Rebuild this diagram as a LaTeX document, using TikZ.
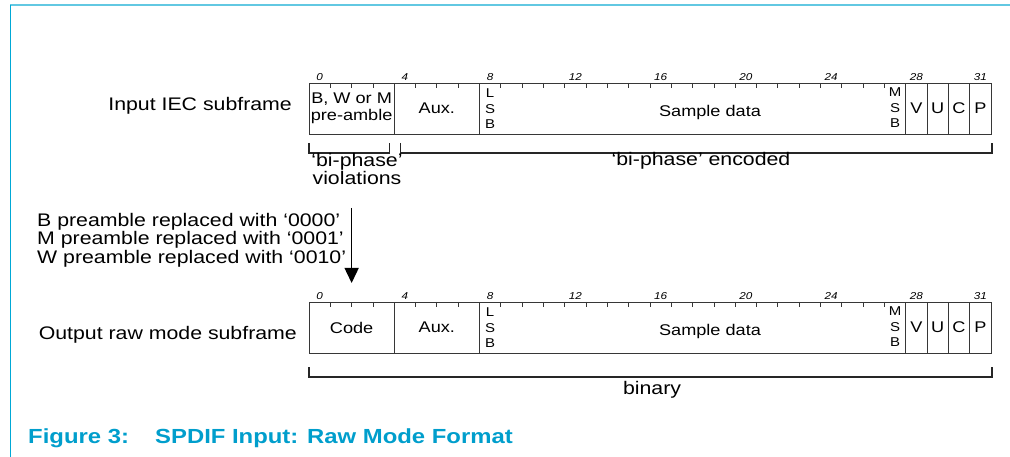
\documentclass[tikz,border=0pt]{standalone}
\usepackage{fontspec}
\setmainfont{Liberation Sans}[FakeStretch=1.17]
\usepackage{tikz}
\usetikzlibrary{arrows.meta,positioning,calc}
\definecolor{framecyan}{RGB}{98,200,226}
\definecolor{edgeblue}{RGB}{0,168,214}
\definecolor{captionblue}{RGB}{0,158,204}
\definecolor{boxgray}{RGB}{55,55,55}
\newcommand{\bw}{21.3125}
\newcommand{\bitx}[1]{309+#1*\bw}
\newcommand{\labelsize}{\fontsize{18.2pt}{18.5pt}\selectfont}
\newcommand{\boxsize}{\fontsize{15.5pt}{17pt}\selectfont}
\newcommand{\stacksize}{\fontsize{12.8pt}{15.5pt}\selectfont}
\newcommand{\bitsize}{\fontsize{10pt}{12pt}\selectfont}
\tikzset{
	>=Latex,
	field/.style={
		draw=boxgray,
		line width=0.9pt,
		minimum height=51pt,
		inner sep=0pt,
		outer sep=0pt,
		align=center,
		font=\boxsize
	},
	bitnum/.style={
		anchor=base,
		inner sep=0pt,
		font=\bitsize\itshape
	},
	bitstack/.style={
		align=center,
		inner sep=0pt,
		font=\stacksize
	},
	bittick/.style={
		draw=boxgray,
		line width=0.8pt
	},
	bracket/.style={
		draw=black!85,
		line width=1.5pt
	},
	rowlabel/.style={
		anchor=base east,
		inner sep=0pt,
		font=\labelsize
	},
	flow/.style={
		-{Triangle[length=15pt,width=14pt]},
		line width=1.4pt
	}
}

\begin{document}
\begin{tikzpicture}[x=1pt,y=-1pt]
	\useasboundingbox (0,0) rectangle (1010,457);
	
	% Frame
	\draw[framecyan,line width=2pt] (10,5.5) -- (1010,5.5);
	\draw[edgeblue,line width=1.5pt] (10.5,5) -- (10.5,457);
	
	% Input subframe
	\node[field,minimum width={4*\bw pt}] (pre) at ({\bitx{2}},108.5) {B, W or M\\pre-amble};
	\node[field,minimum width={4*\bw pt},right=0pt of pre] (aux1) {Aux.};
	\node[field,minimum width={20*\bw pt},right=0pt of aux1] (data1) {};
	\node[field,minimum width={\bw pt},right=0pt of data1] (v1) {V};
	\node[field,minimum width={\bw pt},right=0pt of v1] (u1) {U};
	\node[field,minimum width={\bw pt},right=0pt of u1] (c1) {C};
	\node[field,minimum width={\bw pt},right=0pt of c1] (p1) {P};
	\node[anchor=base,inner sep=0pt,font=\boxsize] (sdata1) at (710,116.5) {Sample data};
	\node[bitstack] (lsb1) at ({\bitx{8}+\bw/2},109) {L\\S\\B};
	\node[bitstack] (msb1) at ({\bitx{27}+\bw/2},108) {M\\S\\B};
	\node[rowlabel] (inlabel) at (292,111) {Input IEC subframe};
	
	% Output subframe
	\node[field,minimum width={4*\bw pt}] (code) at ({\bitx{2}},327.5) {Code};
	\node[field,minimum width={4*\bw pt},right=0pt of code] (aux2) {Aux.};
	\node[field,minimum width={20*\bw pt},right=0pt of aux2] (data2) {};
	\node[field,minimum width={\bw pt},right=0pt of data2] (v2) {V};
	\node[field,minimum width={\bw pt},right=0pt of v2] (u2) {U};
	\node[field,minimum width={\bw pt},right=0pt of u2] (c2) {C};
	\node[field,minimum width={\bw pt},right=0pt of c2] (p2) {P};
	\node[anchor=base,inner sep=0pt,font=\boxsize] (sdata2) at (710,335.5) {Sample data};
	\node[bitstack] (lsb2) at ({\bitx{8}+\bw/2},328) {L\\S\\B};
	\node[bitstack] (msb2) at ({\bitx{27}+\bw/2},327) {M\\S\\B};
	\node[rowlabel] (outlabel) at (297,339) {Output raw mode subframe};
	
	% Bit ticks and numbers
	\foreach \b in {1,2,3,5,6,7,9,10,...,27} {
		\draw[bittick] ({\bitx{\b}},83) -- ++(0,5);
		\draw[bittick] ({\bitx{\b}},302) -- ++(0,5);
	}
	\foreach \b in {0,4,...,28,31} {
		\node[bitnum] (in\b) at ({\bitx{\b}+\bw/2},81) {\b};
		\node[bitnum] (out\b) at ({\bitx{\b}+\bw/2},300) {\b};
	}
	
	% Brackets
	\draw[bracket] ([yshift=-9pt]pre.south west) -- ++(0,10) -| ([xshift=-5pt,yshift=-9pt]pre.south east);
	\draw[bracket] ([xshift=6pt,yshift=-9pt]aux1.south west) -- ++(0,10) -| ([xshift=1pt,yshift=-9pt]p1.south east);
	\draw[bracket] ([yshift=-14pt]code.south west) -- ++(0,10) -| ([xshift=1pt,yshift=-14pt]p2.south east);
	
	\node[anchor=north,align=center,inner sep=0pt,font=\labelsize] (viol) at (357,153) {‘bi-phase’\\violations};
	\node[anchor=base,inner sep=0pt,font=\labelsize] (enc) at (701,166) {‘bi-phase’ encoded};
	\node[anchor=base,inner sep=0pt,font=\labelsize] (bin) at (652,394) {binary};
	
	% Replacement
	\node[anchor=north west,align=left,inner sep=0pt,font=\labelsize] (repl) at (37,213)
	{B preamble replaced with ‘0000’\\
		M preamble replaced with ‘0001’\\
		W preamble replaced with ‘0010’};
	\draw[flow] ([yshift=94pt]code.north) -- ([yshift=19pt]code.north);
	
	% Caption
	\node[anchor=base west,inner sep=0pt,text=captionblue,font=\fontsize{20.4pt}{24pt}\selectfont\bfseries] (fignum) at (28,443) {Figure 3:};
	\node[anchor=base west,inner sep=0pt,text=captionblue,font=\fontsize{20.4pt}{24pt}\selectfont\bfseries] (figtitle) at (155,443) {SPDIF Input: Raw Mode Format};
	
\end{tikzpicture}
\end{document}
